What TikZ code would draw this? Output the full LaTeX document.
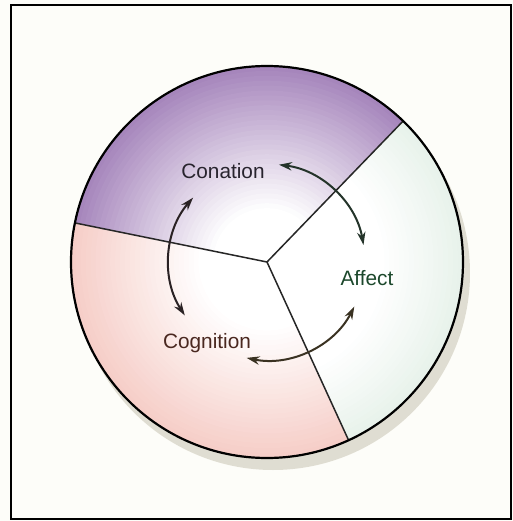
\documentclass[tikz,border=0pt]{standalone}
\usepackage{fontspec}
\setmainfont{Liberation Sans}
\usetikzlibrary{arrows.meta}
\definecolor{paper}{RGB}{253,253,249}
\definecolor{shadowgrey}{RGB}{200,196,178}
\definecolor{conpurple}{RGB}{166,134,188}
\definecolor{cogpink}{RGB}{246,206,200}
\definecolor{affgreen}{RGB}{232,242,235}
\definecolor{conink}{RGB}{40,36,46}
\definecolor{affink}{RGB}{28,72,44}
\definecolor{cogink}{RGB}{74,40,32}
\definecolor{conaff}{RGB}{36,52,42}
\definecolor{concog}{RGB}{42,34,36}
\definecolor{affcog}{RGB}{58,50,34}
\begin{document}
\begin{tikzpicture}[x=50pt,y=50pt,
    sector/.style={draw=black!85,line width=0.75pt},
    cycarrow/.style={<->,line width=1pt,>={Stealth[length=6.5pt,width=4.2pt]}},
    lbl/.style={font=\fontsize{10.4}{12}\selectfont}]
    \fill[paper] (-2.67,-2.59) rectangle (2.46,2.62);
    \useasboundingbox (-2.67,-2.59) rectangle (2.46,2.62);
    \draw[line width=1pt] (-2.56,-2.57) rectangle (2.44,2.57);
    % shadow and sectors
    \fill[shadowgrey,opacity=0.55] (0.06,-0.11) circle (1.97);
    \fill[white] (0,0) circle (1.96);
    \foreach \a/\b/\col/\lo in {46/168.5/conpurple/0.28,168.5/294.6/cogpink/0.35,-65.4/46/affgreen/0.6}{
        \begin{scope}
            \clip (0,0) -- (\a:1.96) arc[start angle=\a,end angle=\b,radius=1.96] -- cycle;
            \foreach \i in {0,...,39}{
                \pgfmathsetmacro\rr{1.96*(1-\i/40)}
                \pgfmathsetmacro\pc{max(0,min(100,100*(\rr/1.96-\lo)/(1-\lo)))}
                \fill[\col!\pc!white] (0,0) circle (\rr);
            }
        \end{scope}
    }
    \coordinate (O) at (0,0);
    \foreach \a/\n in {46/ur,168.5/lf,-65.4/bt}
        \draw[sector] (O) -- (\a:1.96) coordinate (\n);
    \draw[line width=1.1pt] (O) circle (1.96);
    % labels
    \node[lbl,text=conink] (conation) at (-0.44,0.91) {Conation};
    \node[lbl,text=affink] (affect) at (1.00,-0.16) {Affect};
    \node[lbl,text=cogink] (cognition) at (-0.60,-0.81) {Cognition};
    % arrows
    \foreach \s/\e/\c in {83/10/conaff,139/213/concog,-27/-102/affcog}
        \draw[cycarrow,draw=\c] (\s:0.98) arc[start angle=\s,end angle=\e,radius=0.98];
\end{tikzpicture}
\end{document}
